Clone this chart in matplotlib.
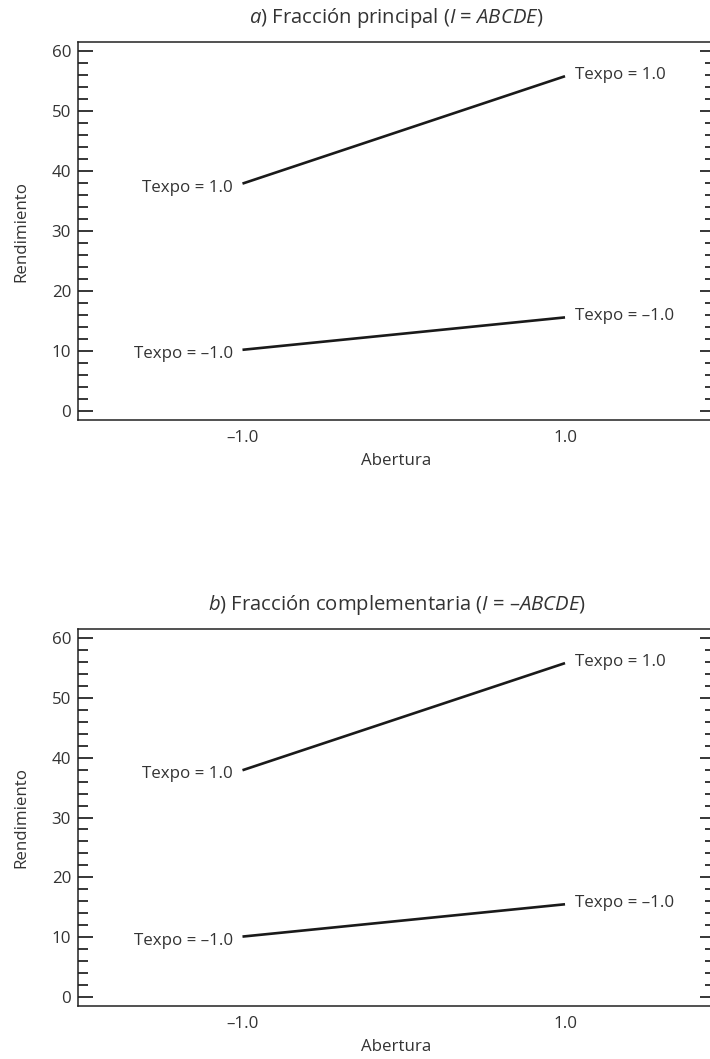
import matplotlib
matplotlib.use("Agg")
import matplotlib.pyplot as plt
from matplotlib.ticker import MultipleLocator

plt.rcParams["font.family"] = ["Open Sans", "DejaVu Sans"]
plt.rcParams["mathtext.fontset"] = "custom"
plt.rcParams["mathtext.rm"] = "Open Sans"
plt.rcParams["mathtext.it"] = "Open Sans:italic"

# datos
abertura = [-1.0, 1.0]
texpo_alto_a = [37.9, 55.8]
texpo_bajo_a = [10.2, 15.6]
texpo_alto_b = [37.9, 55.8]
texpo_bajo_b = [10.1, 15.5]
etiq_alto = "Texpo = 1.0"
etiq_bajo = "Texpo = \u20131.0"
xtick_labels = ["\u20131.0", "1.0"]
titulos = [
    r"$\mathit{a}$) Fracción principal ($\mathit{I}$ = $\mathit{ABCDE}$)",
    r"$\mathit{b}$) Fracción complementaria ($\mathit{I}$ = –$\mathit{ABCDE}$)",
]

gris = "#333333"
fs = 12.2
W, H = 710, 1059


def panel(ax, alto, bajo, titulo):
    ax.plot(abertura, alto, color="#1a1a1a", lw=1.9, solid_capstyle="butt")
    ax.plot(abertura, bajo, color="#1a1a1a", lw=1.9, solid_capstyle="butt")

    # etiquetas a la izquierda y derecha de cada linea
    for ys, lab in [(alto, etiq_alto), (bajo, etiq_bajo)]:
        ax.annotate(lab, (abertura[0], ys[0]), xytext=(-7, -3), textcoords="offset points",
                    ha="right", va="center", fontsize=fs, color=gris)
        ax.annotate(lab, (abertura[1], ys[1]), xytext=(7, 1), textcoords="offset points",
                    ha="left", va="center", fontsize=fs, color=gris)

    ax.set_xlim(-2.02, 1.93)
    ax.set_ylim(-1.5, 61.5)
    ax.set_xticks(abertura)
    ax.set_xticklabels(xtick_labels)
    ax.yaxis.set_major_locator(MultipleLocator(10))
    ax.yaxis.set_minor_locator(MultipleLocator(2))
    ax.tick_params(axis="x", length=0, pad=7, labelsize=fs, labelcolor=gris)
    ax.tick_params(axis="y", which="major", direction="in", length=11, width=1.1,
                   left=True, right=True, labelsize=fs, labelcolor=gris, pad=5)
    ax.tick_params(axis="y", which="minor", direction="in", length=7.5, width=1.1,
                   left=True, right=True)
    for s in ax.spines.values():
        s.set_linewidth(1.1)
        s.set_color("#222222")

    ax.set_xlabel("Abertura", fontsize=fs, color=gris, labelpad=5)
    ax.set_ylabel("Rendimiento", fontsize=fs, color=gris, labelpad=16)
    ax.set_title(titulo, fontsize=14.6, color=gris, pad=14)


fig = plt.figure(figsize=(W / 100, H / 100), dpi=100)
ax1 = fig.add_axes([78 / W, 1 - 420 / H, (715 - 78) / W, (420 - 42) / H])
ax2 = fig.add_axes([78 / W, 1 - 1006 / H, (715 - 78) / W, (1006 - 629) / H])

panel(ax1, texpo_alto_a, texpo_bajo_a, titulos[0])
panel(ax2, texpo_alto_b, texpo_bajo_b, titulos[1])

fig.savefig("out.png", dpi=100)
